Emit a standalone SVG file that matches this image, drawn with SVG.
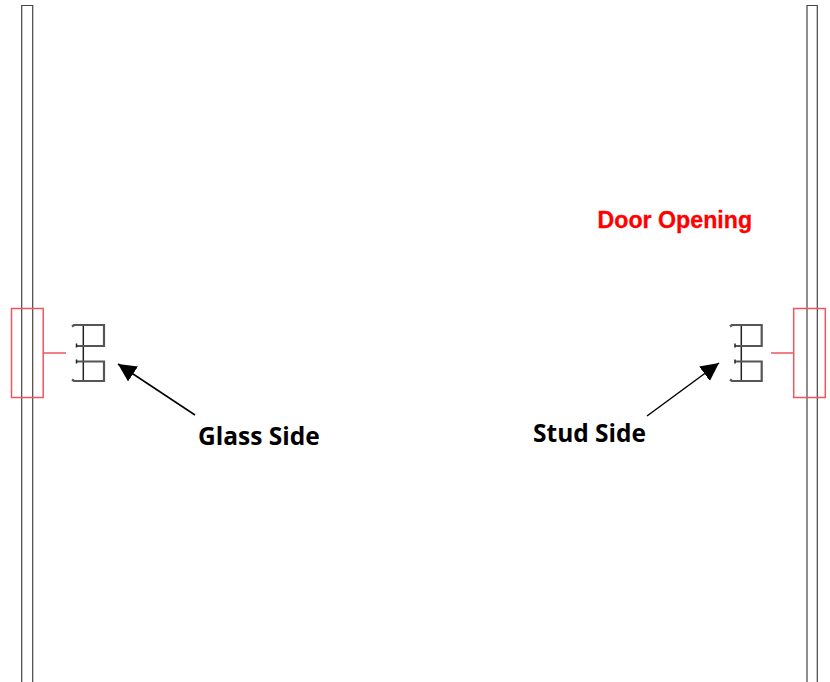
<svg xmlns="http://www.w3.org/2000/svg" width="830" height="682" viewBox="0 0 830 682">
<style>
.wall{fill:none;stroke:#444;stroke-width:1.2}
.red{fill:none;stroke:#ee5560;stroke-width:1.5}
.thin{fill:none;stroke:#222;stroke-width:1.5}
.thick{fill:none;stroke:#555;stroke-width:2.2}
.ar{stroke:#000;stroke-width:1.5;fill:none;marker-end:url(#head)}
.lbl{font-family:"Open Sans","Liberation Sans",sans-serif;font-weight:700;font-size:24.5px;fill:#000}
.door{font-family:"Liberation Sans",Arial,sans-serif;font-weight:700;font-size:23.2px;fill:#f00;stroke:#f00;stroke-width:.3}
</style>
<defs>
<marker id="head" markerUnits="userSpaceOnUse" markerWidth="20" markerHeight="20" refX="18" refY="9" orient="auto"><path d="M0 0L18 9L0 18Z" fill="#000"/></marker>
</defs>
<rect width="830" height="682" fill="#fff"/>
<g id="wall-left"><path class="wall" d="M21.7 682V5.5H32.7V682"/></g>
<g id="wall-right"><path class="wall" d="M807 682V5.5H817.3V682"/></g>
<g id="glass-bracket">
<rect class="red" x="11.5" y="308.5" width="31.7" height="89"/>
<path class="red" d="M43 353H66"/>
</g>
<g id="stud-bracket">
<rect class="red" x="793.7" y="308.5" width="31.6" height="89"/>
<path class="red" d="M771 353H794"/>
</g>
<g id="glass-profile">
<path class="thin" d="M83.3 325V381"/>
<path class="thick" d="M72 326.5L74 325H104V346H77M77 361.5H104V381H74L72 379.5"/>
<path class="thin" d="M76.5 343.5V347.5M76.5 359.5V363.5"/>
</g>
<g id="stud-profile">
<path class="thin" d="M741.3 325V381"/>
<path class="thick" d="M730 326.5L732 325H761.7V346H735M735 361.5H761.7V381H732L730 379.5"/>
<path class="thin" d="M735 343.5V347.5M735 359.5V363.5"/>
</g>
<g id="connectors">
<path class="ar" d="M195 415L118 364"/>
<path class="ar" d="M647 416L719 363"/>
</g>
<g id="label-glass"><text class="lbl" x="198" y="445">Glass Side</text></g>
<g id="label-stud"><text class="lbl" x="533" y="442">Stud Side</text></g>
<g id="label-door"><text class="door" x="597.5" y="228">Door Opening</text></g>
</svg>
